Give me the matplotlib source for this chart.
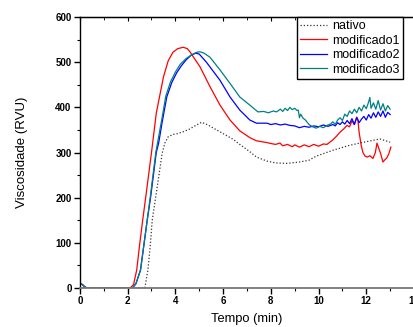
import matplotlib
matplotlib.use('Agg')
import matplotlib.pyplot as plt
from matplotlib.ticker import MultipleLocator

plt.rcParams['font.family'] = ['Liberation Sans', 'DejaVu Sans']

# nativo (black dotted)
t_nat = [0, 1.0, 2.0, 2.72, 2.85, 2.95, 3.03, 3.2, 3.45, 3.56, 3.7, 3.9, 4.1,
         4.33, 4.6, 4.85, 5.1, 5.37, 5.73, 6.4, 6.7, 7.12, 7.4, 7.84, 8.2,
         8.66, 9.2, 9.6, 9.9, 10.6, 11.3, 12.0, 12.57, 13.0]
v_nat = [0, 0, 0, 0, 40, 95, 150, 210, 299, 321, 335, 340, 342,
         346, 352, 360, 367, 361, 350, 330, 318, 302, 290, 281, 277,
         276, 279, 283, 292, 305, 316, 324, 330, 323]

# modificado1 (red)
t_m1 = [0, 0.1, 0.2, 0.3, 1.0, 2.0, 2.1, 2.25, 2.38, 2.5, 2.63, 2.78, 3.0,
        3.2, 3.5, 3.7, 3.9, 4.1, 4.33, 4.5, 4.61, 4.8, 5.03, 5.45, 5.87,
        6.29, 6.7, 7.12, 7.4, 7.84, 8.0, 8.2, 8.38, 8.5, 8.7, 8.9, 9.0, 9.2,
        9.4, 9.6, 9.8, 10.0, 10.2, 10.35, 10.5, 10.6, 10.75, 10.9, 11.05,
        11.19, 11.3, 11.4, 11.5, 11.6, 11.65, 11.7, 11.78, 11.86, 11.95,
        12.05, 12.15, 12.28, 12.38, 12.45, 12.52, 12.6, 12.7, 12.78, 12.86,
        12.95, 13.03]
v_m1 = [10, 8, 3, 0, 0, 0, 0, 8, 40, 95, 150, 210, 300,
        387, 467, 503, 522, 530, 533, 530, 523, 508, 490, 446, 405,
        372, 348, 333, 326, 322, 320, 318, 321, 315, 318, 313, 317, 312,
        317, 313, 318, 314, 319, 318, 324, 328, 336, 345, 352,
        360, 357, 370, 362, 378, 372, 345, 318, 300, 292,
        290, 293, 287, 300, 321, 310, 298, 279, 284, 288,
        298, 312]

# modificado2 (blue)
t_m2 = [0, 0.1, 0.2, 0.3, 1.0, 2.0, 2.2, 2.35, 2.54, 2.68, 2.82, 2.96, 3.2,
        3.3, 3.44, 3.64, 3.85, 4.05, 4.25, 4.45, 4.65, 4.85, 5.0, 5.3, 5.87,
        6.29, 6.7, 7.12, 7.4, 7.84, 8.0, 8.2, 8.4, 8.6, 8.8, 9.0, 9.2, 9.4,
        9.6, 9.8, 10.0, 10.2, 10.4, 10.6, 10.7, 10.8, 10.9, 11.0, 11.1,
        11.2, 11.3, 11.4, 11.5, 11.6, 11.7, 11.8, 11.9, 12.0, 12.1, 12.2,
        12.3, 12.4, 12.5, 12.6, 12.7, 12.8, 12.9, 13.0]
v_m2 = [10, 8, 3, 0, 0, 0, 0, 10, 40, 95, 150, 200, 300,
        321, 365, 423, 455, 476, 492, 505, 515, 520, 518, 500, 460,
        423, 394, 372, 365, 365, 362, 364, 361, 363, 360, 359, 355, 358,
        356, 359, 357, 361, 358, 362, 359, 366, 362, 368, 363,
        371, 364, 375, 362, 378, 366, 374, 380, 372, 384, 376,
        388, 378, 390, 380, 392, 378, 389, 384]

# modificado3 (teal)
t_m3 = [0, 0.1, 0.2, 0.3, 1.0, 2.0, 2.2, 2.35, 2.54, 2.68, 2.82, 2.95, 3.18,
        3.42, 3.6, 3.8, 4.0, 4.2, 4.45, 4.7, 4.9, 5.03, 5.2, 5.45, 5.87,
        6.29, 6.7, 7.12, 7.46, 7.7, 7.9, 8.1, 8.24, 8.4, 8.5, 8.6, 8.7, 8.8,
        8.9, 9.0, 9.1, 9.15, 9.2, 9.25, 9.35, 9.45, 9.6, 9.75, 9.9, 10.05,
        10.2, 10.35, 10.5, 10.6, 10.7, 10.8, 10.9, 11.0, 11.1, 11.2, 11.3,
        11.4, 11.5, 11.6, 11.7, 11.8, 11.9, 12.0, 12.1, 12.15, 12.2, 12.3,
        12.4, 12.5, 12.6, 12.7, 12.8, 12.9, 13.0]
v_m3 = [10, 8, 3, 0, 0, 0, 0, 10, 40, 95, 150, 202, 300,
        370, 425, 457, 478, 495, 508, 517, 522, 523, 520, 511, 483,
        453, 423, 405, 390, 391, 388, 392, 390, 396, 391, 398, 393, 400,
        395, 398, 393, 394, 377, 385, 376, 372, 362, 357, 354, 358,
        355, 360, 363, 368, 362, 372, 377, 371, 385, 380, 392,
        386, 396, 388, 400, 392, 405, 397, 412, 422, 398, 410,
        396, 415, 394, 408, 392, 404, 396]

fig = plt.figure(figsize=(4.14, 3.27), dpi=100)
ax = fig.add_axes([0.193, 0.119, 0.807, 0.829])

ax.plot(t_nat, v_nat, color='#333333', lw=0.9, ls=(0, (1, 1.6)), label='nativo')
ax.plot(t_m1, v_m1, color='#ff0000', lw=0.9, label='modificado1')
ax.plot(t_m2, v_m2, color='#0000ff', lw=0.9, label='modificado2')
ax.plot(t_m3, v_m3, color='#008080', lw=0.9, label='modificado3')

ax.set_xlim(0, 14)
ax.set_ylim(0, 600)
ax.xaxis.set_major_locator(MultipleLocator(2))
ax.xaxis.set_minor_locator(MultipleLocator(1))
ax.yaxis.set_major_locator(MultipleLocator(100))
ax.yaxis.set_minor_locator(MultipleLocator(50))
ax.tick_params(which='major', direction='out', length=4, width=1, labelsize=7, pad=2)
ax.tick_params(which='minor', direction='out', length=2.5, width=0.8)
for lab in ax.get_xticklabels() + ax.get_yticklabels():
    lab.set_fontweight('bold')

top = ax.secondary_xaxis('top')
top.xaxis.set_major_locator(MultipleLocator(2))
top.xaxis.set_minor_locator(MultipleLocator(1))
top.tick_params(which='major', direction='in', length=3, labeltop=False)
top.tick_params(which='minor', direction='in', length=2)

for s in ['left', 'top', 'right']:
    ax.spines[s].set_linewidth(1.0)
ax.spines['bottom'].set_color('#777777')
ax.spines['bottom'].set_linewidth(1.3)

ax.set_xlabel('Tempo (min)', fontsize=9.3, labelpad=5)
ax.set_ylabel('Viscosidade (RVU)', fontsize=9.5, labelpad=20)

ax.legend(loc='upper right', bbox_to_anchor=(0.967, 1.0), borderaxespad=0,
          frameon=True, fancybox=False, framealpha=1, edgecolor='black',
          fontsize=9, handlelength=2.2, labelspacing=0.2, borderpad=0.25,
          handletextpad=0.4)

fig.savefig('out.png', dpi=100)
